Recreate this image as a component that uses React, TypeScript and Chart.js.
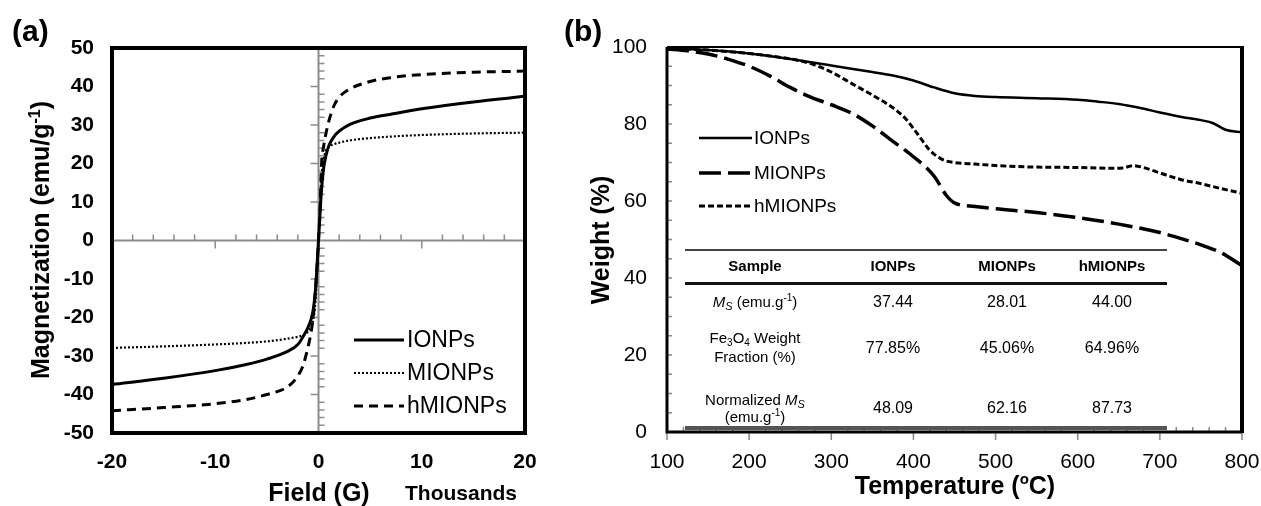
import React, { useEffect, useRef } from "react";
import { Chart, registerables } from "chart.js";
Chart.register(...registerables);

const FONT = "'Liberation Sans', Arial, Helvetica, sans-serif";

// ---------- Panel (a): magnetization vs field ----------
const fieldThousandsG = [-20, -15, -10, -7, -5, -3, -2, -1.5, -1, -0.7, -0.5, -0.3, -0.15, 0, 0.15, 0.3, 0.5, 0.7, 1, 1.5, 2, 3, 5, 7, 10, 15, 20];
const magIONPs = [-37.4, -35.8, -33.8, -32.2, -30.8, -28.8, -27.0, -25.0, -22.5, -20.3, -17.8, -13, -7, 0, 7, 13.5, 18.8, 21.8, 24.6, 27.0, 28.4, 30.1, 31.8, 32.8, 34.2, 36.0, 37.44];
const magMIONPs = [-27.9, -27.5, -27.0, -26.6, -26.2, -25.5, -25.0, -24.6, -23.6, -22.3, -20.5, -16, -9, 0, 9, 16.5, 21, 23.2, 24.3, 25.0, 25.4, 26.0, 26.6, 27.0, 27.4, 27.8, 28.01];
const magHMIONPs = [-44.2, -43.4, -42.4, -41.3, -40.0, -38.0, -35.2, -32.5, -27.5, -23.5, -19.5, -13, -7, 0, 8, 20, 24.5, 27.5, 31, 35, 37.2, 39.3, 41.3, 42.3, 43.1, 43.7, 44.0];

const seriesNames = ["IONPs", "MIONPs", "hMIONPs"];

// ---------- Panel (b): TGA ----------
const tempIONPs = [100, 150, 200, 250, 300, 350, 375, 400, 425, 450, 475, 500, 550, 600, 625, 650, 675, 700, 725, 750, 765, 780, 800];
const weightIONPs = [99.7, 99.2, 98.3, 96.9, 95.2, 93.5, 92.6, 91.3, 89.5, 88.0, 87.3, 87.0, 86.7, 86.3, 85.8, 85.2, 84.2, 83.0, 81.9, 81.0, 80.2, 78.5, 77.85];
const tempMIONPs = [100, 125, 150, 175, 200, 225, 250, 275, 300, 325, 350, 375, 400, 425, 440, 450, 475, 500, 550, 600, 650, 700, 725, 750, 775, 800];
const weightMIONPs = [99.5, 99.0, 98.2, 96.8, 95.0, 92.5, 89.5, 87.0, 85.0, 82.8, 79.5, 75.5, 71.5, 66.5, 61.5, 59.5, 58.6, 58.0, 57.0, 55.7, 54.0, 51.8, 50.3, 48.6, 46.5, 43.2];
const tempHMIONPs = [100, 150, 200, 250, 275, 300, 325, 350, 375, 390, 405, 420, 435, 450, 475, 500, 550, 600, 640, 655, 668, 680, 700, 725, 750, 775, 800];
const weightHMIONPs = [99.6, 99.2, 98.3, 96.9, 95.7, 93.5, 90.5, 87.5, 84.2, 81.5, 77.4, 73.2, 70.8, 70.0, 69.6, 69.2, 68.8, 68.7, 68.5, 68.6, 69.2, 68.7, 67.3, 65.6, 64.5, 63.2, 62.0];

// ---------- Inset table ----------
const tableColumns = ["Sample", "IONPs", "MIONPs", "hMIONPs"];
const msValues = ["37.44", "28.01", "44.00"];
const fractionValues = ["77.85%", "45.06%", "64.96%"];
const normalizedValues = ["48.09", "62.16", "87.73"];

type Seg = { t: string; italic?: boolean; bold?: boolean; scale?: number; dy?: number };

function segFont(s: Seg, size: number) {
  return `${s.italic ? "italic " : ""}${s.bold ? "bold " : ""}${Math.round(size * (s.scale ?? 1))}px ${FONT}`;
}

function drawRich(ctx: CanvasRenderingContext2D, segs: Seg[], cx: number, y: number, size: number, align: "center" | "left" = "center") {
  const widths = segs.map((s) => {
    ctx.font = segFont(s, size);
    return ctx.measureText(s.t).width;
  });
  const total = widths.reduce((a, b) => a + b, 0);
  let x = align === "center" ? cx - total / 2 : cx;
  ctx.textAlign = "left";
  ctx.textBaseline = "alphabetic";
  segs.forEach((s, i) => {
    ctx.font = segFont(s, size);
    ctx.fillText(s.t, x, y + (s.dy ?? 0) * size);
    x += widths[i];
  });
}

function drawRotated(ctx: CanvasRenderingContext2D, segs: Seg[], cx: number, cy: number, size: number) {
  ctx.save();
  ctx.translate(cx, cy);
  ctx.rotate(-Math.PI / 2);
  drawRich(ctx, segs, 0, size * 0.36, size);
  ctx.restore();
}

const toPts = (xs: number[], ys: number[]) => xs.map((x, i) => ({ x, y: ys[i] }));

const noPadX = (h: number) => (s: any) => {
  s.height = h;
  s.paddingLeft = 0;
  s.paddingRight = 0;
};
const noPadY = (w: number) => (s: any) => {
  s.width = w;
  s.paddingTop = 0;
  s.paddingBottom = 0;
};

const panelAPlugin = {
  id: "panelA",
  beforeDatasetsDraw(chart: any) {
    const { ctx, chartArea: ca, scales } = chart;
    const x = scales.x, y = scales.y;
    const x0 = x.getPixelForValue(0);
    const y0 = y.getPixelForValue(0);
    ctx.save();
    ctx.strokeStyle = "#8c8c8c";
    ctx.lineWidth = 2;
    ctx.beginPath();
    ctx.moveTo(ca.left, y0);
    ctx.lineTo(ca.right, y0);
    ctx.moveTo(x0, ca.top);
    ctx.lineTo(x0, ca.bottom);
    ctx.stroke();
    ctx.lineWidth = 1.5;
    ctx.beginPath();
    for (let v = -20; v <= 20; v += 2) {
      if (v === 0) continue;
      const px = x.getPixelForValue(v);
      if (v % 10 === 0) {
        ctx.moveTo(px, y0);
        ctx.lineTo(px, y0 + 8);
      } else {
        ctx.moveTo(px, y0);
        ctx.lineTo(px, y0 - 6);
      }
    }
    for (let v = -50; v <= 50; v += 2) {
      if (v === 0) continue;
      const py = y.getPixelForValue(v);
      if (v % 10 === 0) {
        ctx.moveTo(x0, py);
        ctx.lineTo(x0 - 8, py);
      } else {
        ctx.moveTo(x0, py);
        ctx.lineTo(x0 + 6, py);
      }
    }
    ctx.stroke();
    ctx.restore();
  },
  afterDraw(chart: any) {
    const { ctx, chartArea: ca } = chart;
    ctx.save();
    ctx.strokeStyle = "#000";
    ctx.lineWidth = 4;
    ctx.strokeRect(ca.left, ca.top, ca.right - ca.left, ca.bottom - ca.top);

    // legend
    const legendY = [340, 373, 406];
    const dashes = [[], [2, 2], [9, 6]];
    const widths = [3, 2.2, 3];
    seriesNames.forEach((name, i) => {
      ctx.beginPath();
      ctx.setLineDash(dashes[i]);
      ctx.lineWidth = widths[i];
      ctx.moveTo(354, legendY[i]);
      ctx.lineTo(404, legendY[i]);
      ctx.stroke();
      ctx.setLineDash([]);
      ctx.fillStyle = "#000";
      ctx.font = `23px ${FONT}`;
      ctx.textAlign = "left";
      ctx.textBaseline = "middle";
      ctx.fillText(name, 407, legendY[i] + 1);
    });

    // titles
    ctx.fillStyle = "#000";
    ctx.font = `bold 30px ${FONT}`;
    ctx.textAlign = "left";
    ctx.textBaseline = "alphabetic";
    ctx.fillText("(a)", 12, 41);
    drawRich(ctx, [{ t: "Field (G)", bold: true }], 319, 501, 25);
    drawRich(ctx, [{ t: "Thousands", bold: true }], 461, 500, 21);
    drawRotated(ctx, [{ t: "Magnetization (emu/g", bold: true }, { t: "-1", bold: true, scale: 0.62, dy: -0.38 }, { t: ")", bold: true }], 40, 240, 25);
    ctx.restore();
  },
};

const panelBPlugin = {
  id: "panelB",
  beforeDatasetsDraw(chart: any) {
    const { ctx, chartArea: ca, scales } = chart;
    const x = scales.x, y = scales.y;
    ctx.save();
    ctx.strokeStyle = "#888";
    ctx.lineWidth = 1.5;
    ctx.beginPath();
    for (let v = 5; v < 100; v += 5) {
      const py = y.getPixelForValue(v);
      ctx.moveTo(ca.left, py);
      ctx.lineTo(ca.left + 5, py);
    }
    for (let v = 100; v <= 800; v += 20) {
      const px = x.getPixelForValue(v);
      if (v % 100 === 0) {
        ctx.moveTo(px, ca.bottom);
        ctx.lineTo(px, ca.bottom + 8);
      } else {
        ctx.moveTo(px, ca.bottom);
        ctx.lineTo(px, ca.bottom - 5);
      }
    }
    ctx.stroke();
    ctx.restore();
  },
  afterDatasetsDraw(chart: any) {
    const { ctx } = chart;
    ctx.save();
    const left = 125, right = 607;
    ctx.fillStyle = "#444";
    ctx.fillRect(left, 249, right - left, 2);
    ctx.fillStyle = "#111";
    ctx.fillRect(left, 282, right - left, 3);
    ctx.fillStyle = "#555";
    ctx.fillRect(left, 426, right - left, 4);

    const cols = [195, 333, 447, 552];
    ctx.fillStyle = "#000";
    tableColumns.forEach((c, i) => drawRich(ctx, [{ t: c, bold: true }], cols[i], 271, 15));
    drawRich(ctx, [{ t: "M", italic: true }, { t: "S", italic: true, scale: 0.7, dy: 0.22 }, { t: " (emu.g" }, { t: "-1", scale: 0.65, dy: -0.4 }, { t: ")" }], cols[0], 307, 15);
    drawRich(ctx, [{ t: "Fe" }, { t: "3", scale: 0.65, dy: 0.22 }, { t: "O" }, { t: "4", scale: 0.65, dy: 0.22 }, { t: " Weight" }], cols[0], 343, 15);
    drawRich(ctx, [{ t: "Fraction (%)" }], cols[0], 362, 15);
    drawRich(ctx, [{ t: "Normalized " }, { t: "M", italic: true }, { t: "S", italic: true, scale: 0.7, dy: 0.22 }], cols[0], 405, 15);
    drawRich(ctx, [{ t: "(emu.g" }, { t: "-1", scale: 0.65, dy: -0.4 }, { t: ")" }], cols[0], 422, 15);
    msValues.forEach((v, i) => drawRich(ctx, [{ t: v }], cols[i + 1], 307, 16));
    fractionValues.forEach((v, i) => drawRich(ctx, [{ t: v }], cols[i + 1], 353, 16));
    normalizedValues.forEach((v, i) => drawRich(ctx, [{ t: v }], cols[i + 1], 413, 16));
    ctx.restore();
  },
  afterDraw(chart: any) {
    const { ctx, chartArea: ca } = chart;
    ctx.save();
    ctx.strokeStyle = "#000";
    ctx.beginPath();
    ctx.lineWidth = 2;
    ctx.moveTo(ca.left, ca.top);
    ctx.lineTo(ca.right, ca.top);
    ctx.stroke();
    ctx.beginPath();
    ctx.lineWidth = 3;
    ctx.moveTo(ca.left, ca.top);
    ctx.lineTo(ca.left, ca.bottom);
    ctx.lineTo(ca.right, ca.bottom);
    ctx.stroke();
    ctx.beginPath();
    ctx.lineWidth = 4;
    ctx.moveTo(ca.right, ca.top - 1);
    ctx.lineTo(ca.right, ca.bottom + 1);
    ctx.stroke();

    // legend
    const legendY = [138, 173, 206];
    const dashes = [[], [22, 7], [6, 3]];
    const widths = [2.5, 3.5, 3];
    seriesNames.forEach((name, i) => {
      ctx.beginPath();
      ctx.setLineDash(dashes[i]);
      ctx.lineWidth = widths[i];
      ctx.moveTo(139, legendY[i]);
      ctx.lineTo(192, legendY[i]);
      ctx.stroke();
      ctx.setLineDash([]);
      ctx.fillStyle = "#000";
      ctx.font = `19px ${FONT}`;
      ctx.textAlign = "left";
      ctx.textBaseline = "middle";
      ctx.fillText(name, 194, legendY[i] + 1);
    });

    ctx.fillStyle = "#000";
    ctx.font = `bold 30px ${FONT}`;
    ctx.textAlign = "left";
    ctx.textBaseline = "alphabetic";
    ctx.fillText("(b)", 4, 41);
    drawRich(ctx, [{ t: "Temperature (", bold: true }, { t: "o", bold: true, scale: 0.6, dy: -0.42 }, { t: "C)", bold: true }], 395, 494, 25);
    drawRotated(ctx, [{ t: "Weight (%)", bold: true }], 40, 240, 25);
    ctx.restore();
  },
};

export default function App() {
  const refA = useRef<HTMLCanvasElement>(null);
  const refB = useRef<HTMLCanvasElement>(null);

  useEffect(() => {
    const common = {
      animation: false as const,
      responsive: false,
      events: [] as any[],
      plugins: { legend: { display: false }, tooltip: { enabled: false } },
    };
    const chartA = new Chart(refA.current!, {
      type: "line",
      data: {
        datasets: [
          { label: seriesNames[0], data: toPts(fieldThousandsG, magIONPs), borderColor: "#000", borderWidth: 3, pointRadius: 0, fill: false, cubicInterpolationMode: "monotone" },
          { label: seriesNames[1], data: toPts(fieldThousandsG, magMIONPs), borderColor: "#000", borderWidth: 2.2, borderDash: [2, 2], pointRadius: 0, fill: false, cubicInterpolationMode: "monotone" },
          { label: seriesNames[2], data: toPts(fieldThousandsG, magHMIONPs), borderColor: "#000", borderWidth: 3, borderDash: [9, 6], pointRadius: 0, fill: false, cubicInterpolationMode: "monotone" },
        ],
      },
      options: {
        ...common,
        layout: { padding: { top: 48, right: 35, left: 0, bottom: 0 } },
        scales: {
          x: {
            type: "linear", min: -20, max: 20,
            ticks: { stepSize: 10, color: "#000", font: { family: FONT, size: 21, weight: "bold" }, padding: 17, maxRotation: 0 },
            grid: { display: false, drawTicks: false },
            border: { display: false },
            afterFit: noPadX(73),
          },
          y: {
            type: "linear", min: -50, max: 50,
            ticks: { stepSize: 10, color: "#000", font: { family: FONT, size: 21, weight: "bold" }, padding: 18 },
            grid: { display: false, drawTicks: false },
            border: { display: false },
            afterFit: noPadY(112),
          },
        },
      } as any,
      plugins: [panelAPlugin],
    });

    const chartB = new Chart(refB.current!, {
      type: "line",
      data: {
        datasets: [
          { label: seriesNames[0], data: toPts(tempIONPs, weightIONPs), borderColor: "#000", borderWidth: 2.5, pointRadius: 0, fill: false, cubicInterpolationMode: "monotone" },
          { label: seriesNames[1], data: toPts(tempMIONPs, weightMIONPs), borderColor: "#000", borderWidth: 3.5, borderDash: [22, 7], pointRadius: 0, fill: false, cubicInterpolationMode: "monotone" },
          { label: seriesNames[2], data: toPts(tempHMIONPs, weightHMIONPs), borderColor: "#000", borderWidth: 3, borderDash: [6, 3], pointRadius: 0, fill: false, cubicInterpolationMode: "monotone" },
        ],
      },
      options: {
        ...common,
        layout: { padding: { top: 47, right: 19, left: 0, bottom: 0 } },
        scales: {
          x: {
            type: "linear", min: 100, max: 800,
            ticks: { stepSize: 100, color: "#000", font: { family: FONT, size: 21 }, padding: 18, maxRotation: 0 },
            grid: { display: false, drawTicks: false },
            border: { display: false },
            afterFit: noPadX(74),
          },
          y: {
            type: "linear", min: 0, max: 100,
            ticks: { stepSize: 20, color: "#000", font: { family: FONT, size: 21 }, padding: 20 },
            grid: { display: false, drawTicks: false },
            border: { display: false },
            afterFit: noPadY(107),
          },
        },
      } as any,
      plugins: [panelBPlugin],
    });

    return () => {
      chartA.destroy();
      chartB.destroy();
    };
  }, []);

  return (
    <div style={{ position: "fixed", left: 0, top: 0, width: 1261, height: 506, background: "#fff" }}>
      <canvas ref={refA} width={560} height={506} style={{ position: "absolute", left: 0, top: 0, width: 560, height: 506 }} />
      <canvas ref={refB} width={701} height={506} style={{ position: "absolute", left: 560, top: 0, width: 701, height: 506 }} />
    </div>
  );
}
